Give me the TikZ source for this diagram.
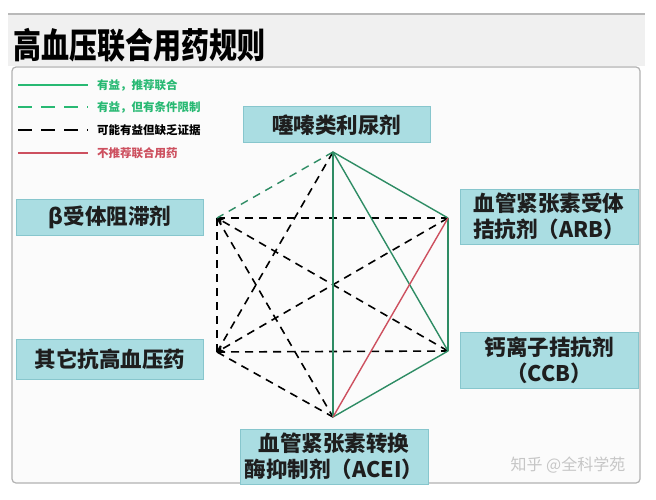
\documentclass[tikz,border=0pt]{standalone}
\usepackage{fontspec}
\newfontfamily\cjk{Noto Sans CJK SC}
\usetikzlibrary{positioning,arrows.meta}
\definecolor{linegreen}{RGB}{46,140,100}
\definecolor{keygreen}{RGB}{40,185,115}
\definecolor{linered}{RGB}{205,80,95}
\definecolor{boxfill}{RGB}{170,221,226}
\definecolor{boxedge}{RGB}{135,198,205}
\definecolor{textdark}{RGB}{30,30,30}
\tikzset{
  drug/.style = {draw=boxedge, fill=boxfill, line width=1pt, text=textdark, align=center,
    inner sep=0pt, font=\cjk\bfseries\fontsize{21.5}{26}\selectfont},
  good/.style = {draw=linegreen, line width=1.4pt},
  maybe/.style = {draw=linegreen, line width=1.4pt, dash pattern=on 8pt off 6pt},
  weak/.style = {draw=black, line width=1.6pt, dash pattern=on 8pt off 6pt},
  bad/.style = {draw=linered, line width=1.4pt},
  key/.style = {anchor=west, inner sep=0pt, font=\cjk\bfseries\fontsize{11.5}{13}\selectfont},
}
\begin{document}
\begin{tikzpicture}[x=1pt, y=-1pt, node distance=9pt]
\useasboundingbox (0,0) rectangle (656,500);
\fill[white] (0,0) rectangle (656,500);
% header and panel
\fill[gray!12] (8,14) rectangle (645,66);
\draw[gray!55, line width=1.2pt] (8,14) -- (645,14);
\node[anchor=west, inner sep=0pt] (title) at (13,45)
  {\scalebox{1}[1.25]{\cjk\bfseries\fontsize{28}{30}\selectfont 高血压联合用药规则}};
\draw[rounded corners=4pt, draw=gray!60, line width=1.2pt, fill=gray!3] (12,67) rectangle (640,483);
% legend
\coordinate (k1a) at (18,85);  \coordinate (k1b) at (88,85);
\coordinate (k2a) at (18,107); \coordinate (k2b) at (88,107);
\coordinate (k3a) at (18,130); \coordinate (k3b) at (88,130);
\coordinate (k4a) at (18,153); \coordinate (k4b) at (88,153);
\draw[draw=keygreen, line width=1.6pt] (k1a) -- (k1b);
\draw[draw=keygreen, line width=1.8pt, dash pattern=on 14pt off 9pt] (k2a) -- (k2b);
\draw[draw=black, line width=2.4pt, dash pattern=on 14pt off 9pt] (k3a) -- (k3b);
\draw[draw=linered, line width=1.6pt] (k4a) -- (k4b);
\node[key, text=keygreen] (k1) [right=of k1b] {有益，推荐联合};
\node[key, text=keygreen] (k2) [right=of k2b] {有益，但有条件限制};
\node[key, text=black] (k3) [right=of k3b] {可能有益但缺乏证据};
\node[key, text=linered] (k4) [right=of k4b] {不推荐联合用药};
% drug boxes
\node[drug, minimum width=187pt, minimum height=36pt] (diuretic) at (336.5,125) {噻嗪类利尿剂};
\node[drug, minimum width=187pt, minimum height=36pt] (beta) at (110,217) {β受体阻滞剂};
\node[drug, minimum width=187pt, minimum height=40pt] (other) at (110,359) {其它抗高血压药};
\node[drug, minimum width=178pt, minimum height=55pt] (arb) at (549,216.5) {血管紧张素受体\\拮抗剂（ARB）};
\node[drug, minimum width=178pt, minimum height=56pt] (ccb) at (549,360) {钙离子拮抗剂\\（CCB）};
\node[drug, minimum width=188pt, minimum height=55pt] (acei) at (334,456.5) {血管紧张素转换\\酶抑制剂（ACEI）};
% hexagon corners
\coordinate (t) at (333,152);
\coordinate (ul) at (217,218);
\coordinate (ll) at (217,352);
\coordinate (b) at (333,417);
\coordinate (lr) at (448,351);
\coordinate (ur) at (448,218);
% connections
\draw[weak] (ul) -- (ur);
\draw[weak] (ll) -- (lr);
\draw[weak] (ul) -- (ll);
\draw[weak, -{Stealth[length=7pt,width=6pt]}] (lr) -- (ul);
\draw[weak, -{Stealth[length=7pt,width=6pt]}] (ur) -- (ll);
\draw[weak] (ul) -- (b);
\draw[weak] (ll) -- (b);
\draw[weak] (t) -- (ll);
\draw[maybe] (t) -- (ul);
\draw[good] (t) -- (ur);
\draw[good] (t) -- (b);
\draw[good] (t) -- (lr);
\draw[good] (ur) -- (lr);
\draw[good] (lr) -- (b);
\draw[bad] (b) -- (ur);
% watermark
\node[inner sep=0pt, text=gray!45, font=\cjk\fontsize{16}{18}\selectfont] (mark) at (568,465) {知乎 @全科学苑};
\end{tikzpicture}
\end{document}
